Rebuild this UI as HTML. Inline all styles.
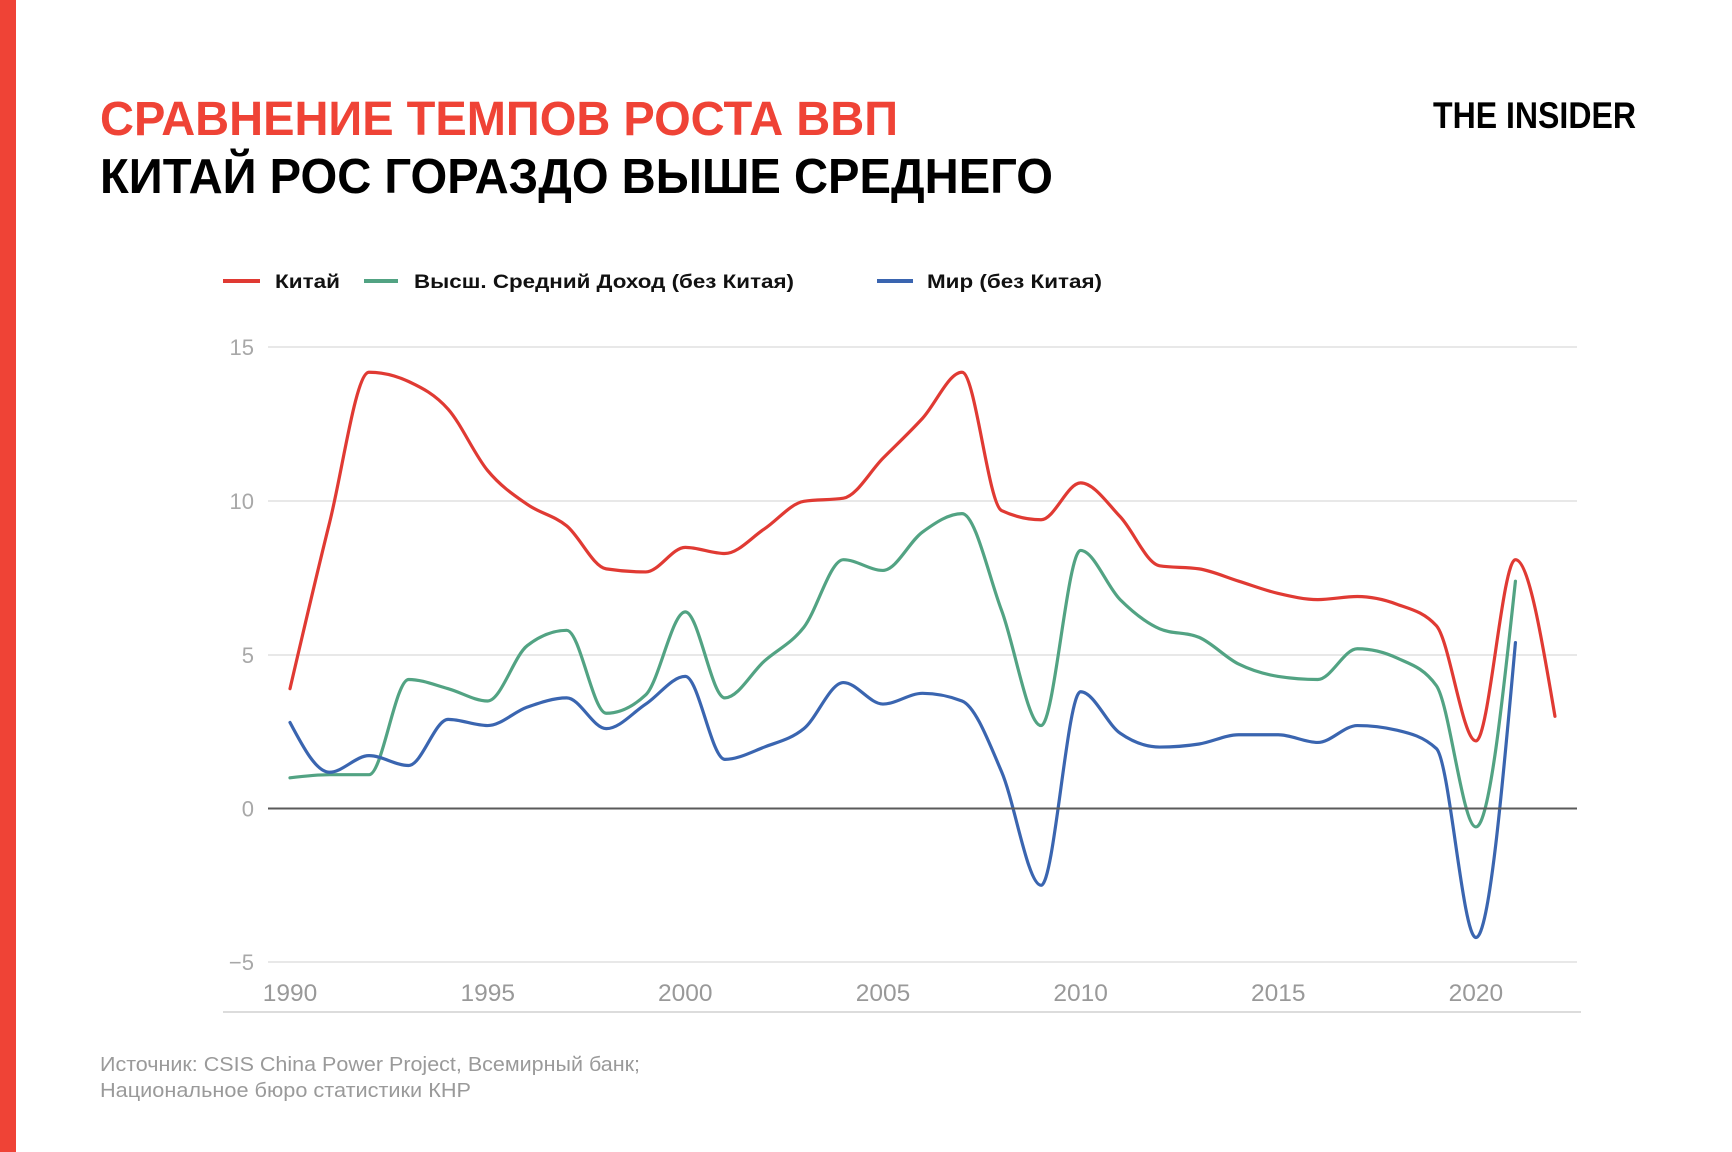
<!DOCTYPE html>
<html>
<head>
<meta charset="utf-8">
<style>
  html,body{margin:0;padding:0;background:#fff;}
  body{width:1732px;height:1152px;overflow:hidden;position:relative;}
  svg{position:absolute;left:0;top:0;display:block;}
  .t{font-family:"Liberation Sans","DejaVu Sans",sans-serif;}
</style>
</head>
<body>
<svg id="chart" width="1732" height="1152" viewBox="0 0 1732 1152" xmlns="http://www.w3.org/2000/svg">
  <rect x="0" y="0" width="1732" height="1152" fill="#ffffff"/>
  <rect x="0" y="0" width="16" height="1152" fill="#ef4336"/>

  <!-- Titles -->
  <text class="t" x="100" y="135" font-size="48" font-weight="bold" fill="#ef4336" textLength="798" lengthAdjust="spacingAndGlyphs">СРАВНЕНИЕ ТЕМПОВ РОСТА ВВП</text>
  <text class="t" x="100" y="193" font-size="49" font-weight="bold" fill="#000" textLength="953" lengthAdjust="spacingAndGlyphs">КИТАЙ РОС ГОРАЗДО ВЫШЕ СРЕДНЕГО</text>

  <!-- Logo -->
  <text class="t" x="1433" y="128" font-size="37" font-weight="bold" fill="#000" textLength="203" lengthAdjust="spacingAndGlyphs">THE INSIDER</text>

  <!-- Legend -->
  <line x1="223" y1="281" x2="260" y2="281" stroke="#e03a33" stroke-width="4"/>
  <text class="t" x="275" y="288" font-size="19" font-weight="bold" fill="#111" textLength="65" lengthAdjust="spacingAndGlyphs">Китай</text>
  <line x1="364" y1="281" x2="398" y2="281" stroke="#52a383" stroke-width="4"/>
  <text class="t" x="414" y="288" font-size="19" font-weight="bold" fill="#111" textLength="380" lengthAdjust="spacingAndGlyphs">Высш. Средний Доход (без Китая)</text>
  <line x1="877" y1="281" x2="913" y2="281" stroke="#3a65b0" stroke-width="4"/>
  <text class="t" x="927" y="288" font-size="19" font-weight="bold" fill="#111" textLength="175" lengthAdjust="spacingAndGlyphs">Мир (без Китая)</text>

  <!-- Gridlines -->
  <g stroke="#e8e8e8" stroke-width="2">
    <line x1="268" y1="347" x2="1577" y2="347"/>
    <line x1="268" y1="501" x2="1577" y2="501"/>
    <line x1="268" y1="655" x2="1577" y2="655"/>
    <line x1="268" y1="962" x2="1577" y2="962"/>
  </g>
  <line x1="223" y1="1012" x2="1581" y2="1012" stroke="#dcdcdc" stroke-width="2"/>

  <!-- Y labels -->
  <g class="t" font-size="22" fill="#a8a8a8" text-anchor="end">
    <text x="254" y="355">15</text>
    <text x="254" y="509">10</text>
    <text x="254" y="663">5</text>
    <text x="254" y="816.5">0</text>
    <text x="254" y="970">−5</text>
  </g>

  <!-- X labels -->
  <g id="xlabels" class="t" font-size="24.5" fill="#999" text-anchor="middle">
    <text x="290" y="1001">1990</text>
    <text x="487.7" y="1001">1995</text>
    <text x="685.3" y="1001">2000</text>
    <text x="883" y="1001">2005</text>
    <text x="1080.6" y="1001">2010</text>
    <text x="1278.3" y="1001">2015</text>
    <text x="1475.9" y="1001">2020</text>
  </g>

  <g id="series" fill="none" stroke-width="3.2" stroke-linejoin="round" stroke-linecap="round">
    <path id="pTeal" stroke="#52a383" d=""/>
    <path id="pBlue" stroke="#3a65b0" d=""/>
    <path id="pRed" stroke="#e03a33" d=""/>
  </g>

  <!-- Zero line (on top) -->
  <line x1="268" y1="808.5" x2="1577" y2="808.5" stroke="#5a5a5a" stroke-width="2"/>

  <!-- Source -->
  <text class="t" x="100" y="1071" font-size="20" fill="#9a9a9a" textLength="540" lengthAdjust="spacingAndGlyphs">Источник: CSIS China Power Project, Всемирный банк;</text>
  <text class="t" x="100" y="1097" font-size="20" fill="#9a9a9a" textLength="371" lengthAdjust="spacingAndGlyphs">Национальное бюро статистики КНР</text>
</svg>
<script>
(function(){
  function X(i){return 290 + i*39.53;}
  function Y(v){return 808.5 - 30.72*v;}
  var red=[3.9,9.3,14.2,13.9,13.0,11.0,9.9,9.2,7.8,7.7,8.5,8.3,9.1,10.0,10.1,11.4,12.7,14.2,9.7,9.4,10.6,9.5,7.9,7.8,7.4,7.0,6.8,6.9,6.65,5.95,2.2,8.1,3.0];
  var teal=[1.0,1.1,1.1,4.2,3.9,3.5,5.3,5.8,3.1,3.7,6.4,3.6,4.8,5.9,8.1,7.75,9.0,9.6,6.45,2.7,8.4,6.8,5.85,5.57,4.7,4.3,4.2,5.2,4.9,4.0,-0.6,7.4];
  var blue=[2.8,1.18,1.72,1.4,2.9,2.7,3.3,3.6,2.6,3.4,4.3,1.6,2.0,2.6,4.1,3.4,3.75,3.5,1.2,-2.5,3.8,2.45,2.0,2.1,2.4,2.4,2.15,2.7,2.55,1.95,-4.2,5.4];
  function sign(x){return x<0?-1:1;}
  function mono(vals){
    var n=vals.length, xs=[], ys=[], i;
    for(i=0;i<n;i++){xs.push(X(i)); ys.push(Y(vals[i]));}
    var s=[], m=new Array(n);
    for(i=0;i<n-1;i++){ s.push((ys[i+1]-ys[i])/(xs[i+1]-xs[i])); }
    for(i=1;i<n-1;i++){
      var h0=xs[i]-xs[i-1], h1=xs[i+1]-xs[i], s0=s[i-1], s1=s[i];
      var p=(s0*h1+s1*h0)/(h0+h1);
      var t=(sign(s0)+sign(s1))*Math.min(Math.abs(s0),Math.abs(s1),0.5*Math.abs(p));
      m[i]=isFinite(t)?t:0;
    }
    m[0]=(3*s[0]-m[1])/2;
    m[n-1]=(3*s[n-2]-m[n-2])/2;
    var d="M"+xs[0].toFixed(2)+","+ys[0].toFixed(2);
    for(i=0;i<n-1;i++){
      var dx=(xs[i+1]-xs[i])/3;
      d+="C"+(xs[i]+dx).toFixed(2)+","+(ys[i]+dx*m[i]).toFixed(2)+" "+
         (xs[i+1]-dx).toFixed(2)+","+(ys[i+1]-dx*m[i+1]).toFixed(2)+" "+
         xs[i+1].toFixed(2)+","+ys[i+1].toFixed(2);
    }
    return d;
  }
  document.getElementById("pRed").setAttribute("d",mono(red));
  document.getElementById("pTeal").setAttribute("d",mono(teal));
  document.getElementById("pBlue").setAttribute("d",mono(blue));
})();
</script>
</body>
</html>
